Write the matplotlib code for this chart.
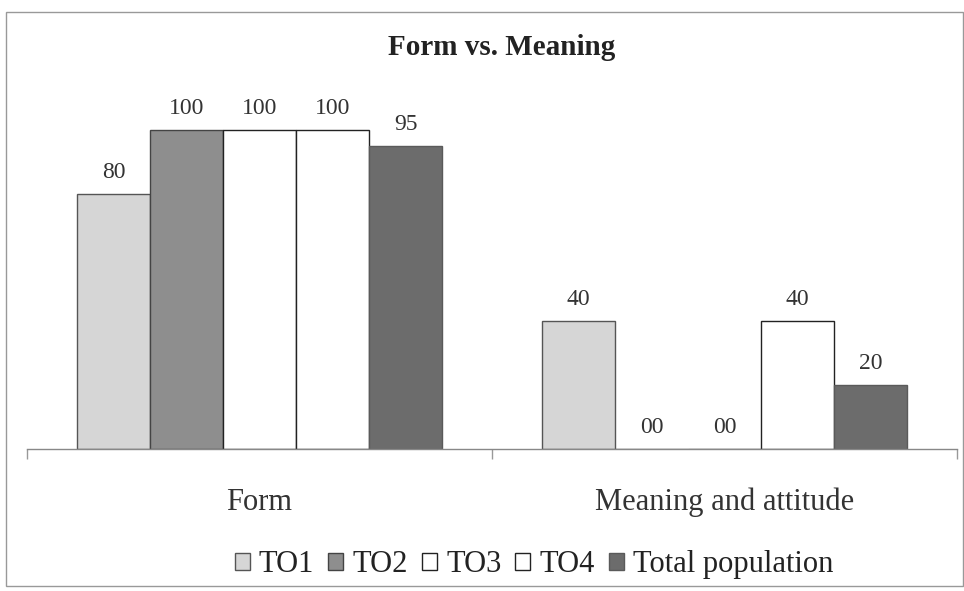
import numpy as np
import matplotlib
matplotlib.use("Agg")
import matplotlib.pyplot as plt
from matplotlib.patches import Rectangle, Patch

# data
categories = ["Form", "Meaning and attitude"]
series = ["TO1", "TO2", "TO3", "TO4", "Total population"]
values = [
    [80, 40],    # TO1
    [100, 0],    # TO2
    [100, 0],    # TO3
    [100, 40],   # TO4
    [95, 20],    # Total population
]
value_labels = [
    ["80", "40"],
    ["100", "00"],
    ["100", "00"],
    ["100", "40"],
    ["95", "20"],
]

fills = ["#d6d6d6", "#8e8e8e", "#ffffff", "#ffffff", "#6c6c6c"]
edges = ["#555555", "#444444", "#222222", "#222222", "#5a5a5a"]

plt.rcParams["font.family"] = ["Liberation Serif", "DejaVu Serif"]

fig = plt.figure(figsize=(9.64, 5.91), dpi=100)
ax = fig.add_axes([0.028, 0.2403, 0.965, 0.604])

x = np.arange(len(categories))
w = 0.157
for i, name in enumerate(series):
    pos = x + (i - 2) * w
    ax.bar(pos, values[i], width=w, color=fills[i], edgecolor=edges[i],
           linewidth=1.0, label=name)
    for px, v, lab in zip(pos, values[i], value_labels[i]):
        ax.annotate(lab, (px, v), xytext=(0, 8), textcoords="offset points",
                    ha="center", va="bottom", fontsize=17, color="#333333")

ax.set_xlim(-0.5, 1.5)
ax.set_ylim(0, 112)
ax.set_yticks([])
for s in ("left", "top", "right"):
    ax.spines[s].set_visible(False)
ax.spines["bottom"].set_color("#888888")
ax.spines["bottom"].set_linewidth(1.0)

# boundary ticks between categories, labels at centres
ax.set_xticks([-0.5, 0.5, 1.5])
ax.set_xticklabels([])
ax.tick_params(axis="x", which="major", direction="out", length=7,
               color="#999999", width=1.0)
ax.set_xticks(x, minor=True)
ax.set_xticklabels(categories, minor=True, fontsize=22, color="#333333")
ax.tick_params(axis="x", which="minor", length=0, pad=28)

fig.text(0.52, 0.92, "Form vs. Meaning", ha="center", va="center",
         fontsize=21, fontweight="bold", color="#222222")

handles = [Patch(facecolor=fills[i], edgecolor=edges[i], linewidth=1.0)
           for i in range(len(series))]
fig.legend(handles, series, loc="center", bbox_to_anchor=(0.554, 0.044),
           ncol=5, frameon=False, fontsize=22, handlelength=0.5,
           handleheight=0.5, handletextpad=0.3, columnspacing=0.45,
           labelcolor="#222222")

# outer chart frame
fig.patches.append(Rectangle((6 / 964, 5 / 591), 957 / 964, 574 / 591,
                             transform=fig.transFigure, fill=False,
                             edgecolor="#999999", linewidth=1.0))

fig.savefig("out.png", dpi=100)
